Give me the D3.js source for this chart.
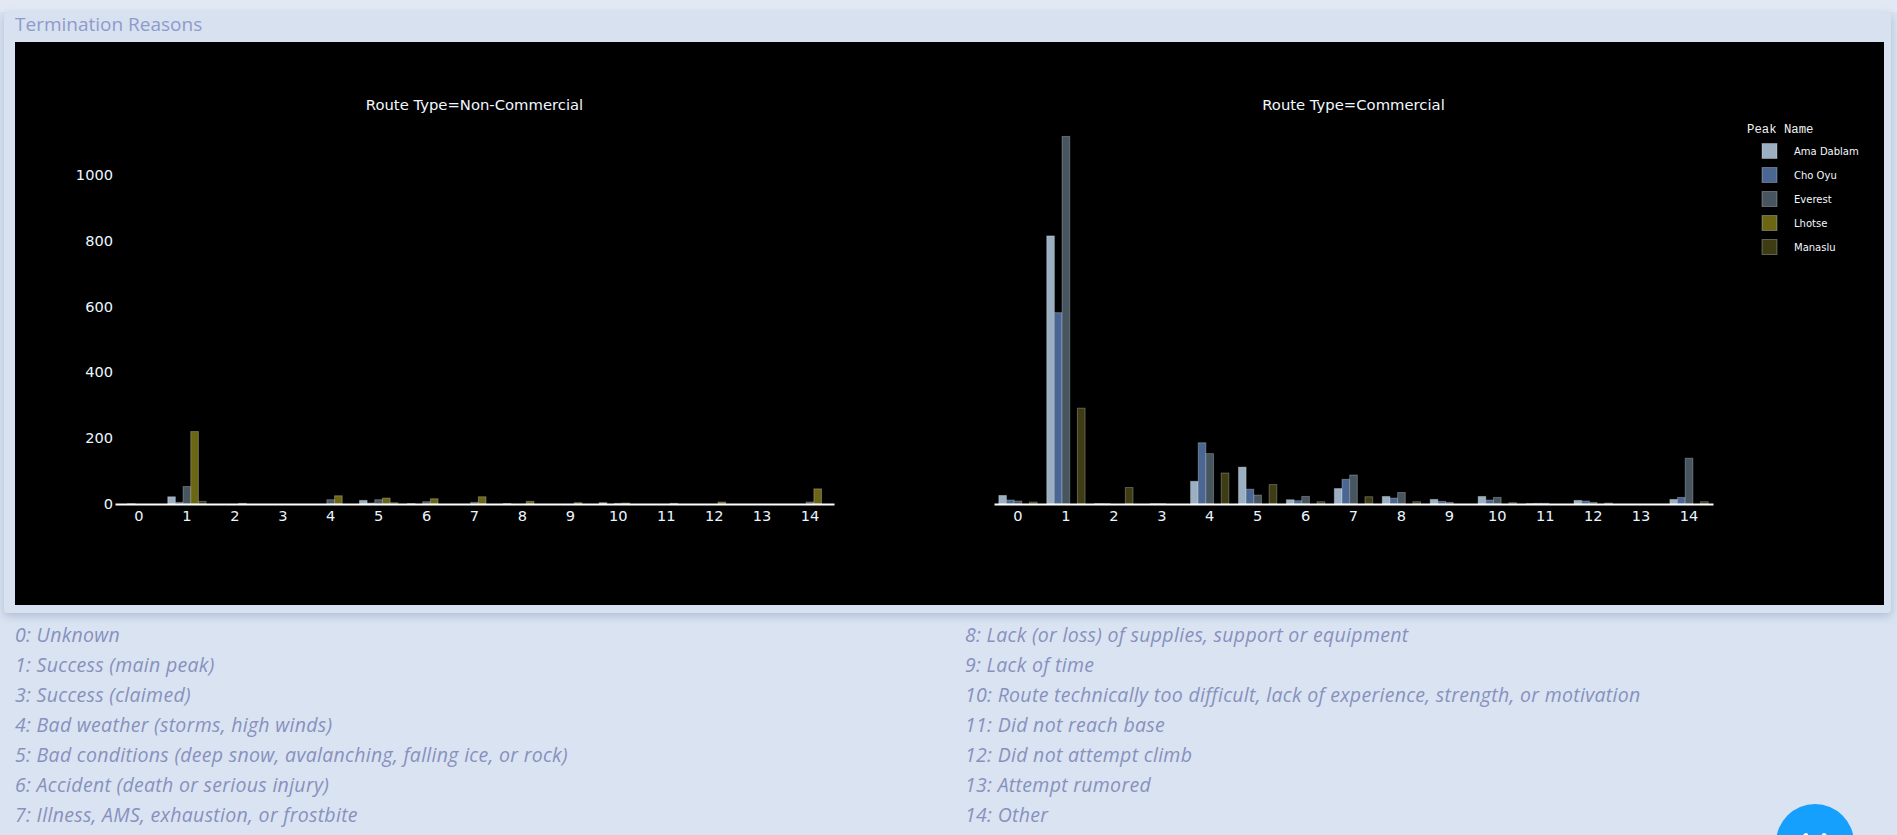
<!DOCTYPE html>
<html>
<head>
<meta charset="utf-8">
<script src="https://cdn.jsdelivr.net/npm/d3@7"></script>
<style>
  body {
    margin: 0;
    width: 1897px;
    height: 835px;
    overflow: hidden;
    position: relative;
    background: #dae3f1;
    font-family: "Open Sans", Lato, sans-serif;
  }
  .topbar { position: absolute; left: 0; top: 0; width: 1897px; height: 12px; background: #e2e9f5; }
  .card {
    position: absolute; left: 4px; top: 12px; width: 1887px; height: 601px;
    background: #d8e1f0; border-radius: 4px;
    box-shadow: 0 3px 9px rgba(110, 130, 175, 0.4);
  }
  .card-title { position: absolute; left: 15px; top: 11px; font-size: 19px; color: #8e9bcb; line-height: 26px; }
  #chart { position: absolute; left: 15px; top: 42px; }
  .reasons {
    position: absolute; top: 620px; margin: 0; padding: 0; list-style: none;
    font-style: italic; font-size: 19.5px; letter-spacing: 0.3px; line-height: 30px; color: #8791be;
  }
  .fab {
    position: absolute; left: 1776px; top: 804px; width: 78px; height: 78px;
    border-radius: 50%; background: #14a0fc;
  }
</style>
</head>
<body>
<div class="topbar"></div>
<div class="card"></div>
<div class="card-title">Termination Reasons</div>
<svg id="chart"></svg>
<ul class="reasons" id="reasons-left" style="left:15px"></ul>
<ul class="reasons" id="reasons-right" style="left:965px"></ul>
<div class="fab">
  <svg width="78" height="78">
    <path d="M30,31 L22,39 L30,47" fill="none" stroke="#fff" stroke-width="4" stroke-linecap="round" stroke-linejoin="round"/>
    <path d="M48,31 L56,39 L48,47" fill="none" stroke="#fff" stroke-width="4" stroke-linecap="round" stroke-linejoin="round"/>
  </svg>
</div>
<script>
const chartSize = { width: 1869, height: 563 };

const reasonCodes = d3.range(15);
const peaks = ["Ama Dablam", "Cho Oyu", "Everest", "Lhotse", "Manaslu"];
const peakColors = ["#9aafc1", "#4a6793", "#46555f", "#6b6614", "#3d3c12"];

// counts per termination reason 0..14
const nonCommercial = {
  "Ama Dablam": [0, 22, 0, 0, 0, 11, 1, 0, 1, 0, 4, 0, 0, 0, 0],
  "Cho Oyu":    [1, 5, 0, 0, 0, 3, 0, 0, 0, 0, 0, 0, 0, 0, 0],
  "Everest":    [0, 53, 0, 0, 13, 13, 7, 5, 0, 0, 2, 0, 0, 0, 6],
  "Lhotse":     [0, 220, 2, 0, 25, 18, 16, 22, 8, 4, 3, 2, 6, 0, 46],
  "Manaslu":    [0, 8, 0, 0, 0, 4, 0, 0, 0, 0, 0, 0, 0, 0, 0]
};
const commercial = {
  "Ama Dablam": [26, 814, 1, 0, 69, 112, 13, 47, 23, 14, 23, 1, 11, 0, 14],
  "Cho Oyu":    [12, 581, 1, 1, 186, 45, 10, 75, 18, 8, 12, 2, 9, 0, 20],
  "Everest":    [9, 1116, 0, 1, 153, 27, 23, 88, 35, 5, 20, 2, 5, 0, 139],
  "Lhotse":     [0, 0, 0, 0, 0, 0, 0, 0, 0, 0, 0, 0, 0, 0, 0],
  "Manaslu":    [6, 291, 50, 0, 94, 59, 7, 22, 7, 0, 4, 0, 3, 0, 7]
};

const yTicks = [0, 200, 400, 600, 800, 1000];
const yMax = 1175;

const reasonsLeft = [
  "0: Unknown",
  "1: Success (main peak)",
  "3: Success (claimed)",
  "4: Bad weather (storms, high winds)",
  "5: Bad conditions (deep snow, avalanching, falling ice, or rock)",
  "6: Accident (death or serious injury)",
  "7: Illness, AMS, exhaustion, or frostbite"
];
const reasonsRight = [
  "8: Lack (or loss) of supplies, support or equipment",
  "9: Lack of time",
  "10: Route technically too difficult, lack of experience, strength, or motivation",
  "11: Did not reach base",
  "12: Did not attempt climb",
  "13: Attempt rumored",
  "14: Other"
];

const panels = [
  { title: "Route Type=Non-Commercial", x0: 100, x1: 819, counts: nonCommercial },
  { title: "Route Type=Commercial", x0: 979, x1: 1698, counts: commercial }
];

const tickFont = "'DejaVu Sans', Verdana, sans-serif";

const svg = d3
  .select("#chart")
  .attr("width", chartSize.width)
  .attr("height", chartSize.height)
  .style("background", "#000");

const y = d3.scaleLinear().domain([0, yMax]).range([462, 75]);
const color = d3.scaleOrdinal().domain(peaks).range(peakColors);

const drawPanel = (panel, i) => {
  const g = svg.append("g").attr("class", "panel");

  const x = d3
    .scaleBand()
    .domain(reasonCodes)
    .range([panel.x0, panel.x1])
    .paddingInner(0.2)
    .paddingOuter(0.1);

  const xPeak = d3.scaleBand().domain(peaks).range([0, x.bandwidth()]);

  const rows = [];
  peaks.forEach(p =>
    panel.counts[p].forEach((v, k) => rows.push({ peak: p, reason: k, value: v }))
  );

  g.selectAll("rect")
    .data(rows.filter(r => r.value > 0))
    .join("rect")
    .attr("x", r => x(r.reason) + xPeak(r.peak))
    .attr("y", r => y(r.value))
    .attr("width", xPeak.bandwidth())
    .attr("height", r => y(0) - y(r.value))
    .attr("fill", r => color(r.peak))
    .attr("stroke", "rgba(255,255,255,0.28)")
    .attr("stroke-width", 1);

  const xAxis = d3.axisBottom(x).tickSize(0).tickSizeOuter(0).tickPadding(7);
  const xg = g.append("g").attr("transform", `translate(0, ${y(0)})`).call(xAxis);
  xg.select(".domain").attr("stroke", "#fff").attr("stroke-width", 2);
  xg.selectAll("text")
    .attr("fill", "#eaf6ff")
    .style("font-family", tickFont)
    .style("font-size", "14.6px");

  if (i === 0) {
    const yAxis = d3
      .axisLeft(y)
      .tickValues(yTicks)
      .tickFormat(d3.format("d"))
      .tickSize(0)
      .tickPadding(2);
    const yg = g.append("g").attr("transform", `translate(${panel.x0}, 0)`).call(yAxis);
    yg.select(".domain").remove();
    yg.selectAll("text")
      .attr("fill", "#eaf6ff")
      .style("font-family", tickFont)
      .style("font-size", "14.6px");
  }

  g.append("text")
    .attr("x", (panel.x0 + panel.x1) / 2)
    .attr("y", 63)
    .attr("dy", "0.35em")
    .attr("text-anchor", "middle")
    .attr("fill", "#f2f8ff")
    .style("font-family", tickFont)
    .style("font-size", "14.8px")
    .text(panel.title);
};

panels.forEach(drawPanel);

// legend
const legend = svg.append("g").attr("transform", "translate(1732, 0)");

legend
  .append("text")
  .attr("x", 0)
  .attr("y", 87)
  .attr("dy", "0.35em")
  .attr("fill", "#f2f2f2")
  .style("font-family", "'Liberation Mono', 'Courier New', monospace")
  .style("font-size", "12.3px")
  .text("Peak Name");

const items = legend
  .selectAll(".item")
  .data(peaks)
  .join("g")
  .attr("class", "item")
  .attr("transform", (d, k) => `translate(0, ${109 + k * 24})`);

items
  .append("rect")
  .attr("x", 15)
  .attr("y", -7.5)
  .attr("width", 15)
  .attr("height", 15)
  .attr("fill", d => color(d))
  .attr("stroke", "rgba(255,255,255,0.3)")
  .attr("stroke-width", 1);

items
  .append("text")
  .attr("x", 47)
  .attr("dy", "0.35em")
  .attr("fill", "#f4f8ff")
  .style("font-family", tickFont)
  .style("font-size", "10px")
  .text(d => d);

// reason lists below the card
d3.select("#reasons-left").selectAll("li").data(reasonsLeft).join("li").text(d => d);
d3.select("#reasons-right").selectAll("li").data(reasonsRight).join("li").text(d => d);
</script>
</body>
</html>
